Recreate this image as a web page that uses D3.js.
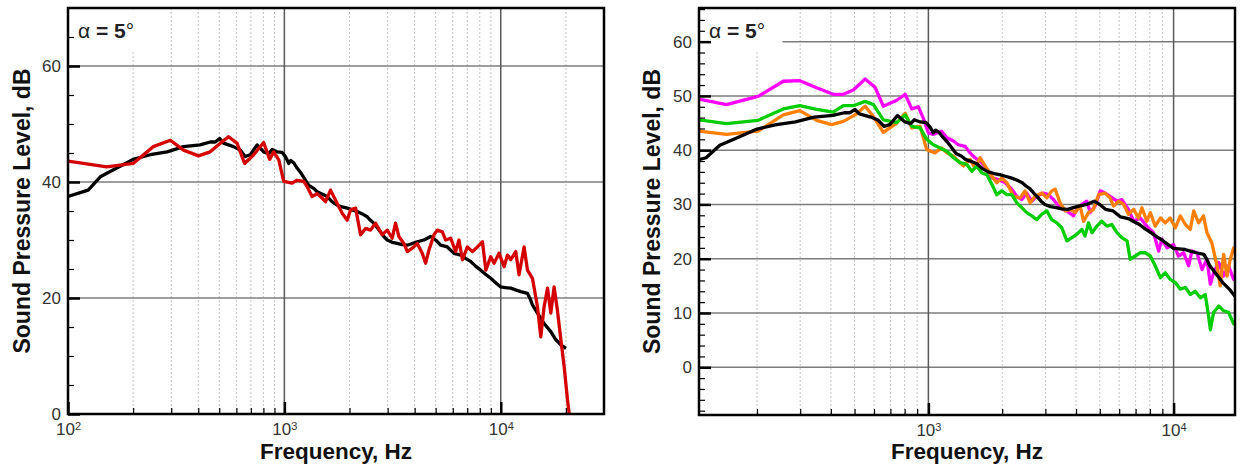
<!DOCTYPE html>
<html>
<head>
<meta charset="utf-8">
<script src="https://cdn.jsdelivr.net/npm/d3@7"></script>
<style>
  body { margin: 0; background: #fff; }
  svg text { font-family: "Liberation Sans", Arial, Helvetica, sans-serif; }
</style>
</head>
<body>
<svg id="chart" width="1241" height="466"></svg>
<script>
// Narrow-band spectra, [frequency Hz, SPL dB]
const blackSpectrum = [
  [100,37.5],[124,38.6],[141,40.9],[168,42.4],[200,43.9],[240,44.7],[287,45.2],[342,46.1],
  [408,46.4],[454,46.9],[479,46.9],[502,47.5],[523,46.7],[582,46.1],[625,45.5],[659,44.4],
  [696,44.7],[748,46.4],[802,45.2],[846,44.9],[877,45.6],[925,45.2],[976,45.1],[1011,44.4],
  [1048,43.2],[1070,43.7],[1105,43.3],[1145,42.4],[1190,41.6],[1228,40.8],[1296,39.4],[1367,38.9],
  [1417,38.3],[1500,37.9],[1577,37.5],[1660,36.6],[1754,36.0],[1851,35.7],[1951,35.5],[2060,35.2],
  [2172,34.9],[2290,34.5],[2415,34.0],[2500,33.4],[2593,32.9],[2690,32.1],[2781,31.4],[2880,30.6],
  [2988,30.0],[3150,29.6],[3322,29.4],[3500,29.2],[3700,29.1],[3900,29.4],[4115,29.7],[4416,30.0],
  [4741,30.6],[5000,30.0],[5274,29.1],[5664,28.8],[6080,27.7],[6530,27.4],[6900,26.8],[7260,26.3],
  [7650,25.5],[8080,24.8],[8500,24.1],[8990,23.4],[9500,22.6],[10000,21.9],[10500,21.8],[11130,21.7],
  [11700,21.4],[12380,21.1],[13290,20.8],[13700,19.8],[14010,18.8],[14780,17.4],[15860,15.6],
  [17030,14.2],[17980,12.8],[18960,11.9],[20000,11.3]
];

const redSpectrum = [
  [100,43.6],[151,42.6],[200,43.2],[248,46.1],[297,47.2],[342,45.5],[401,44.5],[454,45.2],
  [506,46.7],[552,47.8],[604,46.7],[655,43.2],[721,44.7],[802,46.8],[855,43.9],[893,45.2],
  [942,43.8],[993,40.1],[1085,39.8],[1145,40.3],[1228,40.1],[1274,39.2],[1343,37.5],[1417,38.0],
  [1496,37.2],[1550,36.6],[1634,38.6],[1722,36.9],[1849,34.6],[1951,33.4],[2024,35.2],[2134,35.5],
  [2250,30.9],[2373,32.0],[2501,31.7],[2637,32.9],[2831,30.9],[2988,31.7],[3150,30.3],[3264,32.9],
  [3381,30.6],[3568,29.4],[3700,28.0],[3902,28.6],[4115,29.4],[4337,27.7],[4496,26.0],[4660,28.3],
  [4913,30.9],[5090,31.7],[5370,31.4],[5560,30.0],[5870,30.3],[6190,28.0],[6410,30.0],[6650,26.6],
  [7010,28.8],[7400,28.0],[7800,28.8],[8230,29.7],[8530,24.8],[8990,27.1],[9310,26.0],[9820,27.7],
  [10360,25.4],[10740,27.4],[11130,26.6],[11730,28.0],[12150,24.0],[12820,28.8],[13290,24.8],
  [14010,23.4],[14780,18.5],[15310,13.3],[15860,18.5],[16450,21.7],[17030,17.4],[17640,21.9],
  [18270,17.9],[18960,12.8],[19630,8.2],[20350,2.4],[20700,0.1]
];

const magentaSpectrum = [
  [116,49.4],[150,48.4],[202,49.9],[256,52.7],[299,52.8],[350,51.5],[409,50.3],[450,50.3],
  [494,51.1],[552,53.1],[606,51.6],[655,48.1],[743,49.2],[804,50.3],[855,47.6],[910,48.0],
  [955,45.8],[1000,43.2],[1047,42.9],[1132,43.5],[1189,42.3],[1265,41.7],[1324,41.0],[1413,40.7],
  [1479,39.5],[1549,38.6],[1652,37.7],[1730,36.4],[1816,34.9],[1932,34.6],[2056,34.0],[2188,32.8],
  [2296,31.5],[2404,30.9],[2518,32.1],[2642,30.6],[2767,31.5],[2944,32.1],[3090,31.8],[3236,30.9],
  [3443,29.4],[3673,28.8],[3908,27.9],[4027,29.1],[4227,30.0],[4426,30.6],[4571,28.5],[4786,29.7],
  [5023,32.5],[5260,32.1],[5508,31.5],[5875,30.6],[6152,30.9],[6546,29.1],[6871,26.9],[7311,27.5],
  [7780,26.0],[8279,24.8],[8690,21.4],[8954,23.6],[9397,22.0],[10000,22.6],[10471,20.5],[10990,21.1],
  [11508,18.7],[11885,21.4],[12445,21.1],[13062,18.0],[13677,19.9],[14125,15.3],[14555,17.4],
  [15276,19.3],[15996,16.8],[16749,18.7],[17579,16.2],[18000,17.0]
];

const orangeSpectrum = [
  [116,43.5],[150,42.9],[202,43.5],[256,46.5],[299,47.3],[350,45.5],[403,44.7],[450,45.3],
  [502,46.5],[552,48.1],[597,46.2],[655,43.3],[743,45.0],[804,46.8],[855,44.1],[925,44.4],
  [984,40.1],[1064,39.5],[1132,40.4],[1189,39.5],[1265,38.9],[1324,38.0],[1390,37.1],[1479,38.3],
  [1549,36.7],[1626,38.6],[1702,37.1],[1816,35.2],[1901,34.0],[1991,34.9],[2089,34.0],[2223,31.5],
  [2366,31.2],[2477,32.5],[2600,30.3],[2723,31.5],[2904,32.1],[3041,31.2],[3184,32.5],[3289,32.8],
  [3443,30.3],[3614,28.8],[3784,29.1],[3972,28.5],[4159,29.7],[4295,26.9],[4498,28.5],[4710,29.1],
  [4943,31.8],[5260,32.1],[5508,31.2],[5689,29.7],[5970,30.6],[6252,30.0],[6546,28.2],[6871,29.1],
  [7194,27.5],[7430,29.4],[7780,26.9],[8035,28.5],[8414,26.0],[8831,27.5],[9247,26.6],[9683,27.5],
  [10162,25.7],[10641,27.9],[11169,26.3],[11695,25.4],[12078,28.8],[12647,26.6],[13243,27.9],
  [13677,24.8],[14322,22.9],[15031,18.7],[15488,15.0],[15996,20.8],[16520,16.8],[17022,19.9],
  [17579,22.0],[18000,20.5]
];

const greenSpectrum = [
  [116,45.6],[150,44.9],[202,45.5],[256,47.6],[299,48.2],[350,47.5],[409,47.0],[450,48.2],
  [494,48.2],[552,49.0],[597,48.4],[655,45.6],[743,45.1],[804,46.5],[855,44.4],[925,44.1],
  [984,42.0],[1047,41.0],[1117,40.4],[1189,39.8],[1265,38.6],[1346,37.7],[1432,37.4],[1503,36.1],
  [1574,37.1],[1652,35.8],[1730,35.5],[1816,33.7],[1901,31.8],[1991,32.5],[2089,31.8],[2188,31.8],
  [2296,30.3],[2404,29.4],[2518,28.5],[2642,27.9],[2767,27.2],[2904,28.2],[3041,28.8],[3184,27.2],
  [3342,26.6],[3499,25.7],[3673,23.3],[3846,23.9],[4027,24.5],[4227,25.4],[4355,24.2],[4498,26.6],
  [4645,24.8],[4864,26.0],[5093,26.9],[5346,26.0],[5598,26.3],[5875,24.8],[6152,23.9],[6457,23.3],
  [6653,19.9],[6982,20.5],[7311,21.1],[7656,21.1],[8035,20.5],[8414,18.7],[8831,16.5],[9247,17.4],
  [9683,16.2],[10162,15.6],[10641,14.4],[11169,14.7],[11695,13.4],[12246,14.0],[12853,12.8],
  [13459,13.4],[13900,9.4],[14125,6.9],[14555,10.1],[15276,11.3],[15996,10.4],[16749,10.1],
  [17579,8.0],[18000,8.5]
];

// Axis ranges and tick values
const leftFreqDomain = [100, 30000];
const leftLevelDomain = [0, 70];
const leftMajorLevels = [0, 20, 40, 60];
const leftMinorLevels = d3.range(0, 71, 5);
const rightFreqDomain = [116, 17800];
const rightLevelDomain = [-8.8, 66.2];
const rightMajorLevels = [0, 10, 20, 30, 40, 50, 60];
const rightMinorLevels = d3.range(-8, 67, 2);
const decades = [100, 1000, 10000];
const minorFreqs = [2,3,4,5,6,7,8,9].flatMap(m => [100, 1000, 10000].map(d => m * d));

const yTitle = "Sound Pressure Level, dB";
const xTitle = "Frequency, Hz";

const panels = [
  { id: "L", left: 68, right: 604, top: 8, bottom: 414,
    freq: leftFreqDomain, level: leftLevelDomain,
    major: leftMajorLevels, minor: leftMinorLevels, titleX: 30,
    series: [{ data: blackSpectrum, color: "#000000" }, { data: redSpectrum, color: "#d40000" }] },
  { id: "R", left: 699, right: 1235, top: 8, bottom: 415,
    freq: rightFreqDomain, level: rightLevelDomain,
    major: rightMajorLevels, minor: rightMinorLevels, titleX: 660,
    series: [{ data: magentaSpectrum, color: "#ff00ff" }, { data: orangeSpectrum, color: "#ff8000" },
             { data: greenSpectrum, color: "#00cc00" }, { data: blackSpectrum, color: "#000000" }] }
];

const svg = d3.select("#chart");
const defs = svg.append("defs");

panels.forEach(p => {
  const x = d3.scaleLog().domain(p.freq).range([p.left, p.right]);
  const y = d3.scaleLinear().domain(p.level).range([p.bottom, p.top]);
  const inX = f => f > p.freq[0] * 1.001 && f < p.freq[1] * 0.999;
  const inY = v => v > p.level[0] && v < p.level[1];

  defs.append("clipPath").attr("id", "clip" + p.id)
    .append("rect").attr("x", p.left).attr("y", p.top)
    .attr("width", p.right - p.left).attr("height", p.bottom - p.top);

  const g = svg.append("g");

  // dotted minor frequency grid
  g.append("g").selectAll("line").data(minorFreqs.filter(inX)).join("line")
    .attr("x1", d => x(d)).attr("x2", d => x(d))
    .attr("y1", p.top).attr("y2", p.bottom)
    .attr("stroke", "#c4c4c4").attr("stroke-width", 1).attr("stroke-dasharray", "2,2");

  // level grid
  g.append("g").selectAll("line").data(p.major.filter(inY)).join("line")
    .attr("x1", p.left).attr("x2", p.right)
    .attr("y1", d => y(d)).attr("y2", d => y(d))
    .attr("stroke", "#7c7c7c").attr("stroke-width", 1.5);

  // decade grid
  g.append("g").selectAll("line").data(decades.filter(inX)).join("line")
    .attr("x1", d => x(d)).attr("x2", d => x(d))
    .attr("y1", p.top).attr("y2", p.bottom)
    .attr("stroke", "#5a5a5a").attr("stroke-width", 1.5);

  // annotation box
  g.append("rect").attr("x", p.left + 1.5).attr("y", p.top + 2)
    .attr("width", 82).attr("height", 40).attr("fill", "#fff");
  const lab = g.append("text").attr("x", p.left + 10).attr("y", p.top + 30)
    .attr("font-size", 21).attr("fill", "#222");
  lab.append("tspan").text("α");
  lab.append("tspan").attr("font-weight", "bold").text(" = 5");
  lab.append("tspan").text("°");

  // spectra
  const line = d3.line().x(d => x(d[0])).y(d => y(d[1]));
  g.append("g").attr("clip-path", `url(#clip${p.id})`)
    .selectAll("path").data(p.series).join("path")
    .attr("d", s => line(s.data))
    .attr("fill", "none").attr("stroke", s => s.color)
    .attr("stroke-width", 3.3).attr("stroke-linejoin", "round");

  // frame
  g.append("rect").attr("x", p.left).attr("y", p.top)
    .attr("width", p.right - p.left).attr("height", p.bottom - p.top)
    .attr("fill", "none").attr("stroke", "#000").attr("stroke-width", 2.5);

  // y axis: minor then major ticks (inward)
  const yMinor = g.append("g").attr("transform", `translate(${p.left},0)`)
    .call(d3.axisLeft(y).tickValues(p.minor.filter(v => !p.major.includes(v) && inY(v)))
      .tickSize(-6).tickSizeOuter(0).tickFormat(""));
  yMinor.select(".domain").remove();
  yMinor.selectAll(".tick line").attr("stroke", "#000").attr("stroke-width", 1.2);

  const yMajor = g.append("g").attr("transform", `translate(${p.left},0)`)
    .call(d3.axisLeft(y).tickValues(p.major).tickSize(-12).tickSizeOuter(0).tickPadding(7));
  yMajor.select(".domain").remove();
  yMajor.selectAll(".tick line").attr("stroke", "#000").attr("stroke-width", 2.5);
  yMajor.selectAll(".tick text").attr("font-size", 17).attr("fill", "#333")
    .attr("font-family", "'Liberation Sans', Arial, sans-serif");

  // x axis: minor then decade ticks (inward)
  const xMinor = g.append("g").attr("transform", `translate(0,${p.bottom})`)
    .call(d3.axisBottom(x).tickValues(minorFreqs.filter(inX)).tickSize(-6).tickSizeOuter(0).tickFormat(""));
  xMinor.select(".domain").remove();
  xMinor.selectAll(".tick line").attr("stroke", "#000").attr("stroke-width", 1.2);

  const xMajor = g.append("g").attr("transform", `translate(0,${p.bottom})`)
    .call(d3.axisBottom(x).tickValues(decades.filter(d => d >= p.freq[0] && d <= p.freq[1]))
      .tickSize(-12).tickSizeOuter(0).tickPadding(9).tickFormat(() => "10"));
  xMajor.select(".domain").remove();
  xMajor.selectAll(".tick line").attr("stroke", "#000").attr("stroke-width", 2.5);
  xMajor.selectAll(".tick text").attr("font-size", 17).attr("fill", "#333")
    .attr("font-family", "'Liberation Sans', Arial, sans-serif")
    .append("tspan").attr("dy", "-0.45em").attr("font-size", 11).text(d => Math.round(Math.log10(d)));

  // axis titles
  g.append("text").attr("x", (p.left + p.right) / 2).attr("y", 459)
    .attr("text-anchor", "middle").attr("font-size", 22.5).attr("font-weight", "bold")
    .attr("fill", "#111").text(xTitle);
  g.append("text")
    .attr("transform", `translate(${p.titleX},${(p.top + p.bottom) / 2}) rotate(-90)`)
    .attr("text-anchor", "middle").attr("font-size", 23).attr("font-weight", "bold")
    .attr("fill", "#111").text(yTitle);
});
</script>
</body>
</html>
